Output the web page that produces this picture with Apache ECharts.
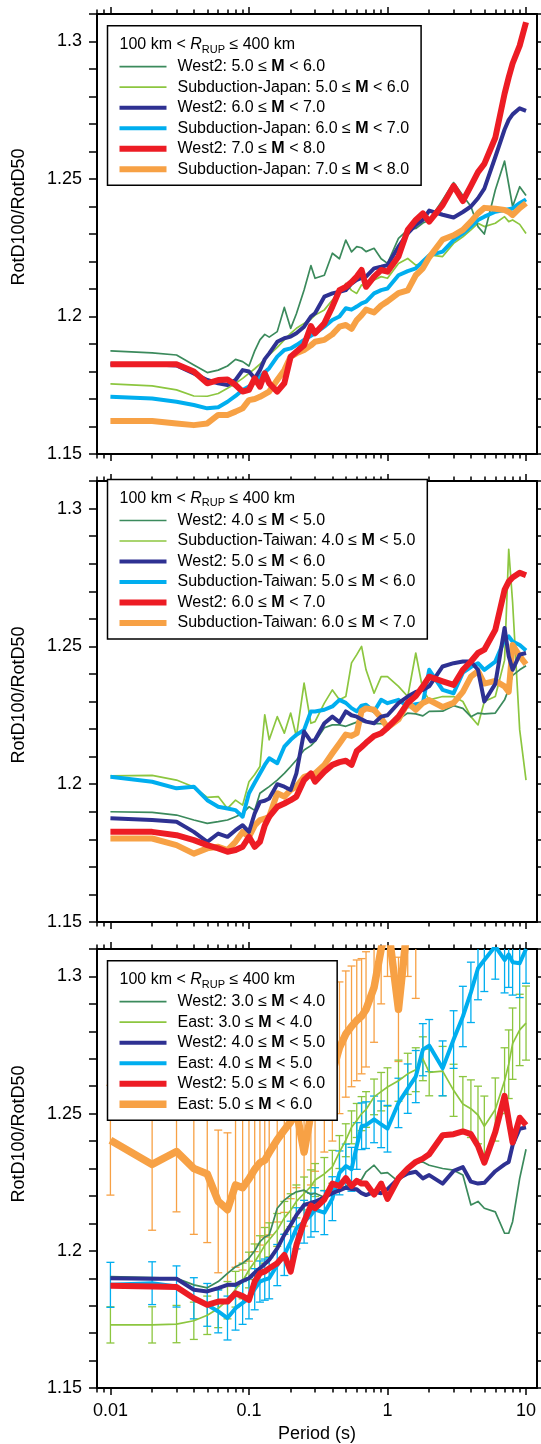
<!DOCTYPE html>
<html>
<head>
<meta charset="UTF-8">
<title>RotD100/RotD50 vs period</title>
<style>
  html, body { margin: 0; padding: 0; background: #fff; }
  #chart { width: 541px; height: 1444px; }
</style>
</head>
<body>
<div id="chart"></div>
<script src="https://cdn.jsdelivr.net/npm/echarts@6/dist/echarts.min.js"></script>
<script>
// periods (s) shared by all curves
const periods = [0.01, 0.02, 0.03, 0.04, 0.05, 0.06, 0.07, 0.08, 0.09, 0.1,
  0.11, 0.12, 0.13, 0.14, 0.16, 0.18, 0.2, 0.22, 0.25, 0.28, 0.3,
  0.35, 0.4, 0.45, 0.5, 0.55, 0.6, 0.65, 0.7, 0.8, 0.9, 1,
  1.2, 1.4, 1.6, 1.8, 2, 2.5, 3, 3.5, 4, 4.5, 5, 6, 7, 7.5, 8, 9, 10];

const xMajorTicks = [0.01, 0.1, 1, 10];
const xMinorTicks = [0.008, 0.009, 0.02, 0.03, 0.04, 0.05, 0.06, 0.07, 0.08, 0.09,
  0.2, 0.3, 0.4, 0.5, 0.6, 0.7, 0.8, 0.9, 2, 3, 4, 5, 6, 7, 8, 9];
const yTicks = [1.15, 1.16, 1.17, 1.18, 1.19, 1.2, 1.21, 1.22, 1.23, 1.24, 1.25,
  1.26, 1.27, 1.28, 1.29, 1.3, 1.31];
const yLabels = [1.15, 1.2, 1.25, 1.3];

// ---- panel 1: West2 vs Subduction-Japan
const p1West2M5 = [1.1875, 1.1868, 1.186, 1.1824, 1.1796, 1.1805, 1.182, 1.1844, 1.1836, 1.182,
  1.1875, 1.1915, 1.1935, 1.1925, 1.1945, 1.2033, 1.1957, 1.201, 1.2096, 1.2185, 1.2139,
  1.215, 1.223, 1.221, 1.2278, 1.2235, 1.2254, 1.225, 1.2236, 1.2248, 1.221, 1.2193,
  1.2284, 1.2315, 1.232, 1.234, 1.235, 1.2424, 1.2487, 1.244, 1.24, 1.2327, 1.23,
  1.246, 1.2565, 1.248, 1.24, 1.2472, 1.244];
const p1JapanM5 = [1.1755, 1.1748, 1.1733, 1.1711, 1.171, 1.172, 1.1739, 1.1757, 1.1775, 1.1793,
  1.181, 1.1827, 1.1845, 1.186, 1.1888, 1.1915, 1.1939, 1.1957, 1.1975, 1.199, 1.2005,
  1.2024, 1.206, 1.2084, 1.212, 1.2095, 1.2084, 1.2115, 1.2108, 1.2133, 1.2145, 1.2139,
  1.2193, 1.2211, 1.2187, 1.2193, 1.2224, 1.2218, 1.2266, 1.229, 1.2315, 1.2339, 1.2327,
  1.2339, 1.2363, 1.2345, 1.2351, 1.2335, 1.2302];
const p1West2M6 = [1.1826, 1.1826, 1.1822, 1.1793, 1.1769, 1.1757, 1.1751, 1.1769, 1.1805, 1.18,
  1.1775, 1.1805, 1.1845, 1.1866, 1.1908, 1.1921, 1.1927, 1.1939, 1.1963, 1.2, 1.2012,
  1.2072, 1.2084, 1.209, 1.2096, 1.212, 1.2133, 1.214, 1.2145, 1.2175, 1.2181, 1.2187,
  1.2254, 1.2302, 1.2333, 1.2351, 1.2385, 1.237, 1.236, 1.238, 1.24, 1.243, 1.2465,
  1.258, 1.268, 1.2715, 1.2735, 1.2757, 1.2748];
const p1JapanM6 = [1.1708, 1.1702, 1.169, 1.1678, 1.1666, 1.167, 1.169, 1.1711, 1.1733, 1.1745,
  1.1763, 1.1781, 1.1797, 1.1812, 1.1854, 1.1878, 1.1884, 1.1896, 1.1915, 1.193, 1.1939,
  1.1963, 1.1987, 1.2, 1.203, 1.2025, 1.2036, 1.2048, 1.2054, 1.2084, 1.2096, 1.2102,
  1.215, 1.2165, 1.2175, 1.22, 1.2222, 1.2236, 1.2278, 1.2302, 1.2327, 1.2351, 1.2363,
  1.2381, 1.2387, 1.239, 1.2393, 1.2412, 1.2426];
const p1West2M7 = [1.1826, 1.1826, 1.1826, 1.18, 1.1757, 1.1769, 1.1771, 1.1751, 1.1727, 1.1733,
  1.1775, 1.1745, 1.1793, 1.1757, 1.1727, 1.1757, 1.1854, 1.1872, 1.1896, 1.1965, 1.1939,
  1.1975, 1.2036, 1.2096, 1.2108, 1.2125, 1.2145, 1.2169, 1.2108, 1.2145, 1.2169, 1.2163,
  1.2218, 1.2315, 1.2351, 1.2375, 1.2345, 1.2405, 1.2475, 1.242, 1.2475, 1.2525, 1.2555,
  1.265, 1.281, 1.287, 1.292, 1.2985, 1.307];
const p1JapanM7 = [1.162, 1.162, 1.1611, 1.1605, 1.1611, 1.1642, 1.1642, 1.1654, 1.1666, 1.1696,
  1.17, 1.1708, 1.1718, 1.1727, 1.1769, 1.1805, 1.1854, 1.1866, 1.1878, 1.1895, 1.1908,
  1.1915, 1.1935, 1.1963, 1.1969, 1.1955, 1.1987, 1.2005, 1.2025, 1.2015, 1.204, 1.2055,
  1.2085, 1.2095, 1.215, 1.2175, 1.2215, 1.228, 1.2295, 1.2315, 1.2345, 1.2375, 1.2395,
  1.2392, 1.2387, 1.238, 1.2369, 1.2394, 1.2412];

// ---- panel 2: West2 vs Subduction-Taiwan
const p2West2M4 = [1.19, 1.1898, 1.1888, 1.187, 1.1858, 1.1864, 1.187, 1.1882, 1.1894, 1.1918,
  1.1905, 1.1967, 1.198, 1.1991, 1.2015, 1.2039, 1.2064, 1.2088, 1.2124, 1.214, 1.2155,
  1.2205, 1.2215, 1.2215, 1.221, 1.2218, 1.2225, 1.2227, 1.2227, 1.222, 1.222, 1.2215,
  1.2235, 1.2258, 1.2255, 1.2248, 1.2264, 1.2265, 1.2285, 1.2275, 1.2245, 1.2258, 1.2255,
  1.2258, 1.2306, 1.2345, 1.2395, 1.2415, 1.243];
const p2TaiwanM4 = [1.203, 1.2032, 1.2015, 1.199, 1.1952, 1.1955, 1.1912, 1.1942, 1.1924, 1.2009,
  1.2035, 1.2064, 1.2252, 1.2161, 1.2245, 1.2185, 1.2258, 1.2173, 1.2367, 1.2221, 1.2227,
  1.2294, 1.2342, 1.2306, 1.2318, 1.244, 1.247, 1.25, 1.2415, 1.233, 1.239, 1.239,
  1.2355, 1.2318, 1.2476, 1.2342, 1.2306, 1.2318, 1.2318, 1.23, 1.2245, 1.2215, 1.23,
  1.2318, 1.245, 1.2852, 1.266, 1.2197, 1.2015];
const p2West2M5 = [1.1876, 1.187, 1.1864, 1.1827, 1.1791, 1.1821, 1.1809, 1.1833, 1.1851, 1.1827,
  1.1894, 1.1936, 1.194, 1.1948, 1.2, 1.1991, 1.1979, 1.2039, 1.2191, 1.2155, 1.2161,
  1.2221, 1.2245, 1.2225, 1.2264, 1.225, 1.2245, 1.2235, 1.2227, 1.2221, 1.2245, 1.225,
  1.2294, 1.2318, 1.2335, 1.2342, 1.2355, 1.2427, 1.2439, 1.2445, 1.2445, 1.2415, 1.23,
  1.2364, 1.2567, 1.2464, 1.2415, 1.247, 1.2476];
const p2TaiwanM5 = [1.2027, 1.2009, 1.1985, 1.1991, 1.1942, 1.1918, 1.1912, 1.1906, 1.1882, 1.1967,
  1.2005, 1.2039, 1.207, 1.2094, 1.2076, 1.2136, 1.2161, 1.2179, 1.2197, 1.2264, 1.2264,
  1.227, 1.2282, 1.2306, 1.2295, 1.2276, 1.2264, 1.2285, 1.2288, 1.2264, 1.2306, 1.2294,
  1.2306, 1.2282, 1.229, 1.2294, 1.2415, 1.2342, 1.233, 1.2405, 1.2425, 1.2439, 1.2415,
  1.2445, 1.2524, 1.2536, 1.2518, 1.2505, 1.2485];
const p2West2M6 = [1.1827, 1.1827, 1.1815, 1.1797, 1.1779, 1.1767, 1.1755, 1.1761, 1.1773, 1.1809,
  1.1773, 1.1791, 1.185, 1.1882, 1.1918, 1.193, 1.1942, 1.1955, 1.2015, 1.2039, 1.2009,
  1.2045, 1.207, 1.208, 1.2085, 1.207, 1.212, 1.2135, 1.215, 1.2175, 1.2185, 1.2205,
  1.2245, 1.2295, 1.232, 1.2355, 1.239, 1.2373, 1.236, 1.2415, 1.2445, 1.2476, 1.2488,
  1.256, 1.2705, 1.2735, 1.275, 1.2767, 1.2758];
const p2TaiwanM6 = [1.1803, 1.1803, 1.1779, 1.1748, 1.1767, 1.1773, 1.1761, 1.1791, 1.1827, 1.1809,
  1.185, 1.187, 1.1875, 1.1882, 1.1967, 1.1955, 1.1979, 1.1991, 1.2027, 1.2035, 1.2039,
  1.207, 1.2112, 1.2148, 1.218, 1.2175, 1.2185, 1.2265, 1.2275, 1.227, 1.224, 1.2205,
  1.2235, 1.2295, 1.227, 1.2295, 1.2305, 1.228, 1.2295, 1.2335, 1.239, 1.241, 1.2365,
  1.2375, 1.2355, 1.2335, 1.2505, 1.2465, 1.2435];

// ---- panel 3: West2 vs East (East curves carry error bars)
const p3West2M3 = [1.1906, 1.1902, 1.19, 1.1876, 1.1865, 1.1888, 1.1918, 1.1942, 1.1955, 1.1973,
  1.2, 1.2033, 1.205, 1.2058, 1.2155, 1.2185, 1.2203, 1.2215, 1.2221, 1.2205, 1.221,
  1.2195, 1.2215, 1.2225, 1.2235, 1.2245, 1.2252, 1.226, 1.2288, 1.2312, 1.2282, 1.2285,
  1.2252, 1.2294, 1.232, 1.2324, 1.2312, 1.23, 1.2294, 1.2276, 1.2167, 1.218, 1.2155,
  1.2142, 1.2064, 1.2064, 1.2106, 1.2264, 1.237];
const p3EastM3 = [1.173, 1.173, 1.1733, 1.1745, 1.1765, 1.179, 1.182, 1.186, 1.189, 1.193,
  1.196, 1.199, 1.202, 1.204, 1.2076, 1.212, 1.2148, 1.218, 1.2209, 1.2235, 1.2258,
  1.228, 1.2306, 1.236, 1.2403, 1.245, 1.2475, 1.25, 1.2515, 1.2561, 1.258, 1.2597,
  1.262, 1.2645, 1.266, 1.27, 1.265, 1.2655, 1.2585, 1.2535, 1.2518, 1.2495, 1.2454,
  1.2515, 1.262, 1.268, 1.2755, 1.2805, 1.283];
const p3EastM3Err = [0.0066, 0.0066, 0.0068, 0.0068, 0.007, 0.007, 0.0068, 0.0065, 0.0065, 0.0065,
  0.0065, 0.0065, 0.0065, 0.0062, 0.006, 0.006, 0.006, 0.006, 0.006, 0.006, 0.006,
  0.006, 0.006, 0.006, 0.006, 0.006, 0.0062, 0.0062, 0.0065, 0.0065, 0.007, 0.007,
  0.0075, 0.0075, 0.008, 0.008, 0.0085, 0.009, 0.0095, 0.01, 0.0105, 0.0105, 0.011,
  0.0115, 0.012, 0.0125, 0.013, 0.013, 0.0135];
const p3West2M4 = [1.19, 1.1898, 1.1898, 1.1858, 1.1852, 1.1864, 1.1876, 1.1876, 1.189, 1.19,
  1.192, 1.1936, 1.1952, 1.1967, 1.2009, 1.2058, 1.2094, 1.213, 1.2167, 1.2175, 1.2179,
  1.2195, 1.221, 1.222, 1.223, 1.2225, 1.2224, 1.221, 1.2203, 1.2215, 1.221, 1.2225,
  1.2264, 1.2282, 1.2288, 1.2264, 1.2276, 1.2245, 1.2291, 1.2305, 1.2252, 1.2245, 1.2248,
  1.229, 1.2315, 1.2324, 1.2385, 1.2445, 1.245];
const p3EastM4 = [1.1876, 1.1882, 1.187, 1.1827, 1.1803, 1.1779, 1.1755, 1.1791, 1.181, 1.1827,
  1.186, 1.1888, 1.1895, 1.19, 1.1948, 1.1985, 1.2033, 1.2082, 1.2106, 1.213, 1.215,
  1.2139, 1.219, 1.2284, 1.2309, 1.2297, 1.2382, 1.2454, 1.2458, 1.2479, 1.2461, 1.2445,
  1.2539, 1.2591, 1.2635, 1.2733, 1.2748, 1.2665, 1.277, 1.2854, 1.2942, 1.303, 1.306,
  1.311, 1.306, 1.308, 1.3052, 1.3048, 1.31];
const p3EastM4Err = [0.0082, 0.0078, 0.0075, 0.0075, 0.0078, 0.0078, 0.008, 0.008, 0.0078, 0.0075,
  0.0075, 0.0075, 0.0075, 0.0075, 0.0075, 0.0075, 0.0075, 0.0075, 0.0078, 0.008, 0.008,
  0.008, 0.008, 0.008, 0.008, 0.008, 0.0085, 0.0085, 0.0085, 0.0085, 0.0085, 0.0085,
  0.009, 0.009, 0.0095, 0.0095, 0.0095, 0.01, 0.0105, 0.011, 0.011, 0.0115, 0.0115,
  0.012, 0.012, 0.012, 0.012, 0.0125, 0.0125];
const p3West2M5 = [1.1873, 1.187, 1.1868, 1.1827, 1.1803, 1.1815, 1.1815, 1.1845, 1.1835, 1.1821,
  1.1888, 1.1918, 1.1925, 1.1936, 1.1955, 1.1985, 1.1924, 1.2021, 1.2106, 1.2165, 1.2155,
  1.2187, 1.2245, 1.2236, 1.2265, 1.2236, 1.2255, 1.2245, 1.2245, 1.2205, 1.2245, 1.2189,
  1.2264, 1.23, 1.2324, 1.2336, 1.2352, 1.2421, 1.2425, 1.2435, 1.2425, 1.2382, 1.2321,
  1.2433, 1.2565, 1.2475, 1.2395, 1.2485, 1.2458];
const p3EastM5 = [1.2403, 1.2315, 1.2362, 1.23, 1.228, 1.218, 1.215, 1.224, 1.223, 1.2262,
  1.2297, 1.2321, 1.233, 1.2358, 1.2405, 1.244, 1.247, 1.251, 1.236, 1.25, 1.254,
  1.26, 1.265, 1.274, 1.279, 1.2818, 1.284, 1.2855, 1.288, 1.296, 1.31, 1.32,
  1.288, 1.32, 1.312, null, null, null, null, null, null, null, null,
  null, null, null, null, null, null];
const p3EastM5Err = [0.02, 0.024, 0.022, 0.024, 0.025, 0.026, 0.028, 0.03, 0.03, 0.03,
  0.03, 0.03, 0.028, 0.03, 0.03, 0.03, 0.028, 0.028, 0.027, 0.026, 0.025,
  0.024, 0.025, 0.024, 0.023, 0.022, 0.022, 0.021, 0.021, 0.02, 0.02, 0.02,
  0.019, 0.02, 0.02, null, null, null, null, null, null, null, null,
  null, null, null, null, null, null];

const FONT = '"Liberation Sans", Arial, Helvetica, sans-serif';
const C = {
  dkgreen: '#3b8a5c', ltgreen: '#8cc63f', navy: '#2e3192',
  cyan: '#00aeef', red: '#ed1c24', orange: '#f7a145'
};
const gridTops = [14, 481, 949];
const gridHeights = [440, 441, 440];
const legendTops = [25.7, 479.5, 960.7];
const yTitleCenters = [217, 695, 1134];

// legend names must be unique, so each panel tags its names with zero-width spaces
function nm(label, panel) { return label + '\u200b'.repeat(panel + 1); }

function lineSeries(panel, label, values, color, width) {
  return {
    type: 'line', name: nm(label, panel),
    xAxisIndex: panel * 4, yAxisIndex: panel * 2,
    data: periods.map((p, i) => [p, values[i]]),
    symbol: 'none', showSymbol: false, color: color,
    lineStyle: { color: color, width: width, join: 'round' },
    clip: true, silent: true, connectNulls: false
  };
}

function errSeries(panel, id, values, errs, color) {
  const data = [];
  periods.forEach((p, i) => {
    if (values[i] != null && errs[i] != null) data.push([p, values[i] - errs[i], values[i] + errs[i]]);
  });
  return {
    type: 'custom', name: id, xAxisIndex: panel * 4, yAxisIndex: panel * 2,
    data: data, encode: { x: 0, y: [1, 2] }, clip: true, silent: true,
    renderItem: function (params, api) {
      const lo = api.coord([api.value(0), api.value(1)]);
      const hi = api.coord([api.value(0), api.value(2)]);
      const st = { stroke: color, lineWidth: 1.3 };
      return {
        type: 'group', children: [
          { type: 'line', shape: { x1: lo[0], y1: lo[1], x2: hi[0], y2: hi[1] }, style: st },
          { type: 'line', shape: { x1: lo[0] - 4, y1: lo[1], x2: lo[0] + 4, y2: lo[1] }, style: st },
          { type: 'line', shape: { x1: hi[0] - 4, y1: hi[1], x2: hi[0] + 4, y2: hi[1] }, style: st }
        ]
      };
    }
  };
}

// legend entries: [label, color, width] in legend order
const legendDefs = [
  [['West2: 5.0 ≤ M < 6.0', C.dkgreen, 1.7], ['Subduction-Japan: 5.0 ≤ M < 6.0', C.ltgreen, 1.7],
   ['West2: 6.0 ≤ M < 7.0', C.navy, 4], ['Subduction-Japan: 6.0 ≤ M < 7.0', C.cyan, 4],
   ['West2: 7.0 ≤ M < 8.0', C.red, 6], ['Subduction-Japan: 7.0 ≤ M < 8.0', C.orange, 6]],
  [['West2: 4.0 ≤ M < 5.0', C.dkgreen, 1.7], ['Subduction-Taiwan: 4.0 ≤ M < 5.0', C.ltgreen, 1.7],
   ['West2: 5.0 ≤ M < 6.0', C.navy, 4], ['Subduction-Taiwan: 5.0 ≤ M < 6.0', C.cyan, 4],
   ['West2: 6.0 ≤ M < 7.0', C.red, 6], ['Subduction-Taiwan: 6.0 ≤ M < 7.0', C.orange, 6]],
  [['West2: 3.0 ≤ M < 4.0', C.dkgreen, 1.7], ['East: 3.0 ≤ M < 4.0', C.ltgreen, 1.7],
   ['West2: 4.0 ≤ M < 5.0', C.navy, 4], ['East: 4.0 ≤ M < 5.0', C.cyan, 4],
   ['West2: 5.0 ≤ M < 6.0', C.red, 6], ['East: 5.0 ≤ M < 6.0', C.orange, 7.5]]
];
const panelValues = [
  [p1West2M5, p1JapanM5, p1West2M6, p1JapanM6, p1West2M7, p1JapanM7],
  [p2West2M4, p2TaiwanM4, p2West2M5, p2TaiwanM5, p2West2M6, p2TaiwanM6],
  [p3West2M3, p3EastM3, p3West2M4, p3EastM4, p3West2M5, p3EastM5]
];

const series = [];
for (let g = 0; g < 3; g++) {
  const d = legendDefs[g], v = panelValues[g];
  const mk = (k) => lineSeries(g, d[k][0], v[k], d[k][1], d[k][2]);
  if (g === 2) {
    series.push(errSeries(2, 'errE5', p3EastM5, p3EastM5Err, C.orange), mk(5));
    series.push(errSeries(2, 'errE3', p3EastM3, p3EastM3Err, C.ltgreen), mk(1));
    series.push(mk(0));
    series.push(errSeries(2, 'errE4', p3EastM4, p3EastM4Err, C.cyan), mk(3));
    series.push(mk(2), mk(4));
  } else {
    series.push(mk(1), mk(0), mk(3), mk(5), mk(2), mk(4));
  }
}

const tickStyle = { color: '#000', width: 1.5 };
const xAxes = [], yAxes = [], grids = [], legends = [], titles = [], graphics = [];
for (let g = 0; g < 3; g++) {
  grids.push({ left: 97, width: 440, top: gridTops[g], height: gridHeights[g] });
  const base = { type: 'log', logBase: 10, gridIndex: g, min: 0.008, max: 12, splitLine: { show: false } };
  xAxes.push(Object.assign({}, base, {
    position: 'bottom',
    axisLine: { show: true, onZero: false, lineStyle: { color: '#000', width: 2 } },
    axisTick: { customValues: xMajorTicks, length: 7, lineStyle: tickStyle },
    axisLabel: {
      show: g === 2, customValues: xMajorTicks, margin: 14, color: '#000',
      fontSize: 18, fontFamily: FONT, formatter: (val) => String(val)
    },
    name: g === 2 ? 'Period (s)' : '', nameLocation: 'middle', nameGap: 37,
    nameTextStyle: { color: '#000', fontSize: 18, fontFamily: FONT }
  }));
  xAxes.push(Object.assign({}, base, {
    position: 'bottom', axisLine: { show: false, onZero: false },
    axisTick: { customValues: xMinorTicks, length: 4.5, lineStyle: tickStyle },
    axisLabel: { show: false }
  }));
  xAxes.push(Object.assign({}, base, {
    position: 'top',
    axisLine: { show: true, onZero: false, lineStyle: { color: '#000', width: 2 } },
    axisTick: { customValues: xMajorTicks, length: 7, lineStyle: tickStyle },
    axisLabel: { show: false }
  }));
  xAxes.push(Object.assign({}, base, {
    position: 'top', axisLine: { show: false, onZero: false },
    axisTick: { customValues: xMinorTicks, length: 4.5, lineStyle: tickStyle },
    axisLabel: { show: false }
  }));
  yAxes.push({
    type: 'value', gridIndex: g, min: 1.15, max: 1.31, position: 'left',
    splitLine: { show: false },
    axisLine: { show: true, lineStyle: { color: '#000', width: 2 } },
    axisTick: { customValues: yTicks, length: 8, lineStyle: tickStyle },
    axisLabel: {
      customValues: yLabels, margin: 15, color: '#000', fontSize: 18, fontFamily: FONT,
      formatter: (val) => String(val)
    }
  });
  yAxes.push({
    type: 'value', gridIndex: g, min: 1.15, max: 1.31, position: 'right',
    splitLine: { show: false },
    axisLine: { show: true, lineStyle: { color: '#000', width: 2 } },
    axisTick: { customValues: yTicks, length: 6, lineStyle: tickStyle },
    axisLabel: { show: false }
  });

  legends.push({
    orient: 'vertical', left: 107.5, top: legendTops[g],
    padding: [33, 12, 8, 12], itemGap: 4.5, itemWidth: 47, itemHeight: 16,
    backgroundColor: '#fff', borderColor: '#000', borderWidth: 1.5,
    selectedMode: false, z: 20,
    itemStyle: { borderWidth: 0 },
    data: legendDefs[g].map(d => ({
      name: nm(d[0], g),
      icon: 'path://M0,0H47V' + d[2] + 'H0Z'
    })),
    formatter: (name) => name.replace(/\u200b/g, '').replace(' M ', ' {b|M} '),
    textStyle: {
      color: '#000', fontSize: 16, fontFamily: FONT, lineHeight: 16, padding: [0, 0, 0, 6],
      rich: { b: { fontWeight: 'bold', fontSize: 16, fontFamily: FONT, lineHeight: 16 } }
    }
  });
  titles.push({
    text: '100 km < {i|R}{s|RUP} ≤ 400 km',
    left: 119.5, top: legendTops[g] + 9.3, padding: 0, z: 30,
    textStyle: {
      color: '#000', fontSize: 16, fontWeight: 'normal', fontFamily: FONT, lineHeight: 20,
      rich: {
        i: { fontStyle: 'italic', fontSize: 16, fontFamily: FONT, lineHeight: 20 },
        s: { fontSize: 11, fontFamily: FONT, lineHeight: 11, verticalAlign: 'bottom' }
      }
    }
  });
  graphics.push({
    type: 'text', x: 19, y: yTitleCenters[g], rotation: Math.PI / 2, z: 10,
    style: {
      text: 'RotD100/RotD50', fill: '#000', fontSize: 18, fontFamily: FONT,
      align: 'center', verticalAlign: 'middle'
    }
  });
}

const chart = echarts.init(document.getElementById('chart'));
chart.setOption({
  animation: false,
  backgroundColor: '#fff',
  grid: grids,
  xAxis: xAxes,
  yAxis: yAxes,
  legend: legends,
  title: titles,
  graphic: graphics,
  series: series
});
</script>
</body>
</html>
